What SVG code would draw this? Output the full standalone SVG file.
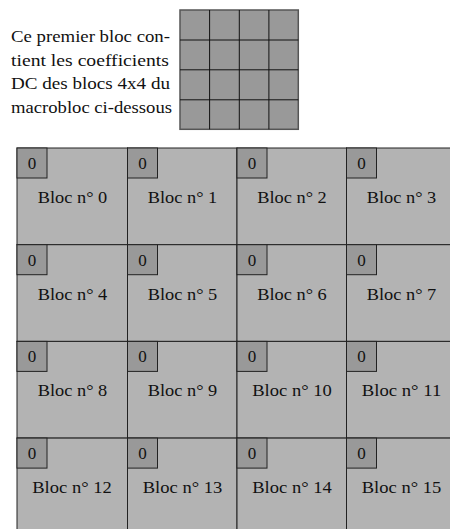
<svg xmlns="http://www.w3.org/2000/svg" width="450" height="529" viewBox="0 0 450 529">
<style>
text{font-family:"Liberation Serif","Times New Roman",serif;fill:#111}
.cap{font-size:17.5px}
.lbl{font-size:17px;text-anchor:middle}
.dc{fill:#999;stroke:#555;stroke-width:1.5}
.blk{fill:#b3b3b3;stroke:#222;stroke-width:1}
.sm{fill:#999;stroke:#222;stroke-width:1}
</style>
<rect width="450" height="529" fill="#fff"/>
<g id="caption">
<text class="cap" x="11" y="42" textLength="159" lengthAdjust="spacingAndGlyphs">Ce premier bloc con-</text>
<text class="cap" x="11" y="65.5" textLength="158" lengthAdjust="spacingAndGlyphs">tient les coefficients</text>
<text class="cap" x="11" y="89" textLength="159" lengthAdjust="spacingAndGlyphs">DC des blocs 4x4 du</text>
<text class="cap" x="11" y="112.5" textLength="161" lengthAdjust="spacingAndGlyphs">macrobloc ci-dessous</text>
</g>
<g id="dc-grid">
<rect class="dc" x="180" y="10" width="118.3" height="119.3"/>
<path d="M209.6 10V129.3M239.3 10V129.3M268.9 10V129.3M180 40H298.3M180 69.8H298.3M180 99.8H298.3" stroke="#111" stroke-width="1" fill="none"/>
</g>
<g id="b0"><rect class="blk" x="17" y="148" width="110.5" height="96.7"/><rect class="sm" x="17" y="148" width="30" height="30"/><text class="lbl" x="32" y="169">0</text><text class="lbl" x="72.5" y="203" textLength="69.5" lengthAdjust="spacingAndGlyphs">Bloc n° 0</text></g>
<g id="b1"><rect class="blk" x="127.5" y="148" width="109.5" height="96.7"/><rect class="sm" x="127.5" y="148" width="30" height="30"/><text class="lbl" x="142.5" y="169">0</text><text class="lbl" x="182.5" y="203" textLength="69.5" lengthAdjust="spacingAndGlyphs">Bloc n° 1</text></g>
<g id="b2"><rect class="blk" x="237" y="148" width="109.5" height="96.7"/><rect class="sm" x="237" y="148" width="30" height="30"/><text class="lbl" x="252" y="169">0</text><text class="lbl" x="292" y="203" textLength="69.5" lengthAdjust="spacingAndGlyphs">Bloc n° 2</text></g>
<g id="b3"><rect class="blk" x="346.5" y="148" width="110" height="96.7"/><rect class="sm" x="346.5" y="148" width="30" height="30"/><text class="lbl" x="361.5" y="169">0</text><text class="lbl" x="401.5" y="203" textLength="69.5" lengthAdjust="spacingAndGlyphs">Bloc n° 3</text></g>

<g id="b4"><rect class="blk" x="17" y="244.7" width="110.5" height="96.7"/><rect class="sm" x="17" y="244.7" width="30" height="30"/><text class="lbl" x="32" y="265.7">0</text><text class="lbl" x="72.5" y="299.7" textLength="69.5" lengthAdjust="spacingAndGlyphs">Bloc n° 4</text></g>
<g id="b5"><rect class="blk" x="127.5" y="244.7" width="109.5" height="96.7"/><rect class="sm" x="127.5" y="244.7" width="30" height="30"/><text class="lbl" x="142.5" y="265.7">0</text><text class="lbl" x="182.5" y="299.7" textLength="69.5" lengthAdjust="spacingAndGlyphs">Bloc n° 5</text></g>
<g id="b6"><rect class="blk" x="237" y="244.7" width="109.5" height="96.7"/><rect class="sm" x="237" y="244.7" width="30" height="30"/><text class="lbl" x="252" y="265.7">0</text><text class="lbl" x="292" y="299.7" textLength="69.5" lengthAdjust="spacingAndGlyphs">Bloc n° 6</text></g>
<g id="b7"><rect class="blk" x="346.5" y="244.7" width="110" height="96.7"/><rect class="sm" x="346.5" y="244.7" width="30" height="30"/><text class="lbl" x="361.5" y="265.7">0</text><text class="lbl" x="401.5" y="299.7" textLength="69.5" lengthAdjust="spacingAndGlyphs">Bloc n° 7</text></g>

<g id="b8"><rect class="blk" x="17" y="341.4" width="110.5" height="96.7"/><rect class="sm" x="17" y="341.4" width="30" height="30"/><text class="lbl" x="32" y="362.4">0</text><text class="lbl" x="72.5" y="396.4" textLength="69.5" lengthAdjust="spacingAndGlyphs">Bloc n° 8</text></g>
<g id="b9"><rect class="blk" x="127.5" y="341.4" width="109.5" height="96.7"/><rect class="sm" x="127.5" y="341.4" width="30" height="30"/><text class="lbl" x="142.5" y="362.4">0</text><text class="lbl" x="182.5" y="396.4" textLength="69.5" lengthAdjust="spacingAndGlyphs">Bloc n° 9</text></g>
<g id="b10"><rect class="blk" x="237" y="341.4" width="109.5" height="96.7"/><rect class="sm" x="237" y="341.4" width="30" height="30"/><text class="lbl" x="252" y="362.4">0</text><text class="lbl" x="292" y="396.4" textLength="79.5" lengthAdjust="spacingAndGlyphs">Bloc n° 10</text></g>
<g id="b11"><rect class="blk" x="346.5" y="341.4" width="110" height="96.7"/><rect class="sm" x="346.5" y="341.4" width="30" height="30"/><text class="lbl" x="361.5" y="362.4">0</text><text class="lbl" x="401.5" y="396.4" textLength="79.5" lengthAdjust="spacingAndGlyphs">Bloc n° 11</text></g>

<g id="b12"><rect class="blk" x="17" y="438.1" width="110.5" height="96.7"/><rect class="sm" x="17" y="438.1" width="30" height="30"/><text class="lbl" x="32" y="459.1">0</text><text class="lbl" x="72" y="493" textLength="79.5" lengthAdjust="spacingAndGlyphs">Bloc n° 12</text></g>
<g id="b13"><rect class="blk" x="127.5" y="438.1" width="109.5" height="96.7"/><rect class="sm" x="127.5" y="438.1" width="30" height="30"/><text class="lbl" x="142.5" y="459.1">0</text><text class="lbl" x="182.5" y="493" textLength="79.5" lengthAdjust="spacingAndGlyphs">Bloc n° 13</text></g>
<g id="b14"><rect class="blk" x="237" y="438.1" width="109.5" height="96.7"/><rect class="sm" x="237" y="438.1" width="30" height="30"/><text class="lbl" x="252" y="459.1">0</text><text class="lbl" x="292" y="493" textLength="79.5" lengthAdjust="spacingAndGlyphs">Bloc n° 14</text></g>
<g id="b15"><rect class="blk" x="346.5" y="438.1" width="110" height="96.7"/><rect class="sm" x="346.5" y="438.1" width="30" height="30"/><text class="lbl" x="361.5" y="459.1">0</text><text class="lbl" x="401.5" y="493" textLength="79.5" lengthAdjust="spacingAndGlyphs">Bloc n° 15</text></g>
<g id="connectors"/>
</svg>
